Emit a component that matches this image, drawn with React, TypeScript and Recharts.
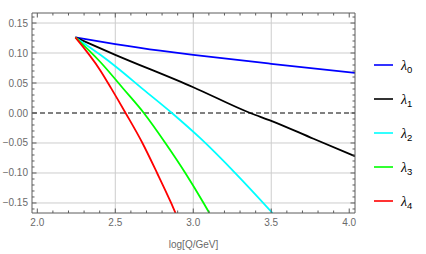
import React from 'react';
import { LineChart, Line, XAxis, YAxis, ReferenceLine } from 'recharts';

// ---- data ----
const lambda0X = [2.244, 2.5, 2.788, 3.0, 3.5, 4.037];
const lambda0Y = [0.126, 0.115, 0.104, 0.097, 0.082, 0.067];

const lambda1X = [2.244, 2.5, 3.0, 3.365, 3.5, 3.771, 4.037];
const lambda1Y = [0.126, 0.097, 0.043, 0.0, -0.013, -0.043, -0.072];

const lambda2X = [2.244, 2.404, 2.5, 2.681, 2.863, 3.045, 3.28, 3.508];
const lambda2Y = [0.126, 0.097, 0.078, 0.039, 0.0, -0.042, -0.103, -0.1667];

const lambda3X = [2.244, 2.404, 2.553, 2.683, 2.821, 2.949, 3.066, 3.103];
const lambda3Y = [0.126, 0.085, 0.04, 0.0, -0.05, -0.1, -0.15, -0.1667];

const lambda4X = [2.244, 2.404, 2.474, 2.566, 2.674, 2.768, 2.858, 2.886];
const lambda4Y = [0.126, 0.071, 0.041, 0.0, -0.05, -0.1, -0.15, -0.1667];

const seriesNames = ['0', '1', '2', '3', '4'];
const seriesColors = ['#0000ff', '#000000', '#00ffff', '#00ff00', '#ff0000'];

const xDomain = [1.966, 4.037];
const yDomain = [-0.1667, 0.1667];

const xMajorTicks = [2.0, 2.5, 3.0, 3.5, 4.0];
const xTickLabels = ['2.0', '2.5', '3.0', '3.5', '4.0'];
const xMinorTicks = [2.0, 2.1, 2.2, 2.3, 2.4, 2.5, 2.6, 2.7, 2.8, 2.9, 3.0, 3.1, 3.2, 3.3, 3.4, 3.5, 3.6, 3.7, 3.8, 3.9, 4.0];

const yMajorTicks = [-0.15, -0.1, -0.05, 0.0, 0.05, 0.1, 0.15];
const yTickLabels = ['\u22120.15', '\u22120.10', '\u22120.05', '0.00', '0.05', '0.10', '0.15'];
const yMinorTicks = [
  -0.16, -0.15, -0.14, -0.13, -0.12, -0.11, -0.1, -0.09, -0.08, -0.07, -0.06, -0.05, -0.04, -0.03, -0.02, -0.01,
  0.0, 0.01, 0.02, 0.03, 0.04, 0.05, 0.06, 0.07, 0.08, 0.09, 0.1, 0.11, 0.12, 0.13, 0.14, 0.15, 0.16,
];

const xGrid = [2.5, 3.0, 3.5];
const yGrid = [-0.15, -0.1, -0.05, 0.05, 0.1, 0.15];
const zeroLine = 0;

const xs = [lambda0X, lambda1X, lambda2X, lambda3X, lambda4X];
const ys = [lambda0Y, lambda1Y, lambda2Y, lambda3Y, lambda4Y];
const seriesData = xs.map((arr, i) => arr.map((x, j) => ({ x, y: ys[i][j] })));

// ---- styles ----
const FRAME = '#5c5c5c';
const LABEL = '#6a6a6a';
const GRID = '#cdcdcd';
const FONT = '"Liberation Sans", Arial, sans-serif';
const MAJOR = 4.5;
const MINOR = 2.5;

const isMajor = (v: number, list: number[]) => list.some((m) => Math.abs(m - v) < 1e-6);
const labelFor = (v: number, list: number[], labels: string[]) => {
  const i = list.findIndex((m) => Math.abs(m - v) < 1e-6);
  return i >= 0 ? labels[i] : null;
};

const BottomTick = (props: any) => {
  const { x, y, payload } = props;
  const v = payload.value;
  const len = isMajor(v, xMajorTicks) ? MAJOR : MINOR;
  const lab = labelFor(v, xMajorTicks, xTickLabels);
  return (
    <g>
      <line x1={x} x2={x} y1={y} y2={y - len} stroke={FRAME} strokeWidth={1} />
      {lab && (
        <text x={x} y={y + 13} textAnchor="middle" fontSize={10} fontFamily={FONT} fill={LABEL}>
          {lab}
        </text>
      )}
    </g>
  );
};

const TopTick = (props: any) => {
  const { x, y, payload } = props;
  const len = isMajor(payload.value, xMajorTicks) ? MAJOR : MINOR;
  return <line x1={x} x2={x} y1={y} y2={y + len} stroke={FRAME} strokeWidth={1} />;
};

const LeftTick = (props: any) => {
  const { x, y, payload } = props;
  const v = payload.value;
  const len = isMajor(v, yMajorTicks) ? MAJOR : MINOR;
  const lab = labelFor(v, yMajorTicks, yTickLabels);
  return (
    <g>
      <line x1={x} x2={x + len} y1={y} y2={y} stroke={FRAME} strokeWidth={1} />
      {lab && (
        <text x={x - 4} y={y + 3.5} textAnchor="end" fontSize={10} fontFamily={FONT} fill={LABEL}>
          {lab}
        </text>
      )}
    </g>
  );
};

const RightTick = (props: any) => {
  const { x, y, payload } = props;
  const len = isMajor(payload.value, yMajorTicks) ? MAJOR : MINOR;
  return <line x1={x} x2={x - len} y1={y} y2={y} stroke={FRAME} strokeWidth={1} />;
};

const Legend = () => (
  <svg width={426} height={254} style={{ position: 'absolute', left: 0, top: 0, pointerEvents: 'none' }}>
    {seriesNames.map((n, i) => {
      const cy = 65 + i * 34;
      return (
        <g key={n}>
          <line x1={374} x2={393} y1={cy} y2={cy} stroke={seriesColors[i]} strokeWidth={1.6} />
          <text x={401} y={cy + 4.5} fontFamily={FONT} fill="#000">
            <tspan fontSize={14} fontStyle="italic" fontFamily='"Liberation Serif", serif'>
              {'\u03bb'}
            </tspan>
            <tspan fontSize={9.5} dy={3}>
              {n}
            </tspan>
          </text>
        </g>
      );
    })}
  </svg>
);

export default function App() {
  return (
    <div style={{ position: 'absolute', left: 0, top: 0, width: 426, height: 254, background: '#fff' }}>
      <LineChart width={426} height={254} margin={{ top: 12, right: 70, bottom: 0, left: 0 }}>
        <XAxis
          xAxisId="b"
          type="number"
          dataKey="x"
          domain={xDomain}
          allowDataOverflow
          ticks={xMinorTicks}
          interval={0}
          tick={<BottomTick />}
          tickLine={false}
          tickSize={0}
          tickMargin={0}
          height={41}
          axisLine={{ stroke: FRAME }}
          label={{ value: 'log[Q/GeV]', position: 'insideBottom', offset: 6, fontSize: 10, fontFamily: FONT, fill: LABEL }}
        />
        <XAxis
          xAxisId="t"
          orientation="top"
          type="number"
          dataKey="x"
          domain={xDomain}
          allowDataOverflow
          ticks={xMinorTicks}
          interval={0}
          tick={<TopTick />}
          tickLine={false}
          tickSize={0}
          tickMargin={0}
          height={1}
          axisLine={{ stroke: FRAME }}
        />
        <YAxis
          yAxisId="l"
          type="number"
          domain={yDomain}
          allowDataOverflow
          ticks={yMinorTicks}
          interval={0}
          tick={<LeftTick />}
          tickLine={false}
          tickSize={0}
          tickMargin={0}
          width={32}
          axisLine={{ stroke: FRAME }}
        />
        <YAxis
          yAxisId="r"
          orientation="right"
          type="number"
          domain={yDomain}
          allowDataOverflow
          ticks={yMinorTicks}
          interval={0}
          tick={<RightTick />}
          tickLine={false}
          tickSize={0}
          tickMargin={0}
          width={1}
          axisLine={{ stroke: FRAME }}
        />
        {xGrid.map((v) => (
          <ReferenceLine key={'gx' + v} x={v} xAxisId="b" yAxisId="l" stroke={GRID} strokeWidth={1} />
        ))}
        {yGrid.map((v) => (
          <ReferenceLine key={'gy' + v} y={v} xAxisId="b" yAxisId="l" stroke={GRID} strokeWidth={1} />
        ))}
        <ReferenceLine y={zeroLine} xAxisId="b" yAxisId="l" stroke="#000" strokeWidth={1} strokeDasharray="5 3" />
        {seriesData.map((d, i) => (
          <Line
            key={seriesNames[i]}
            data={d}
            dataKey="y"
            xAxisId="b"
            yAxisId="l"
            type="monotone"
            stroke={seriesColors[i]}
            strokeWidth={1.8}
            dot={false}
            activeDot={false}
            isAnimationActive={false}
          />
        ))}
      </LineChart>
      <Legend />
    </div>
  );
}
